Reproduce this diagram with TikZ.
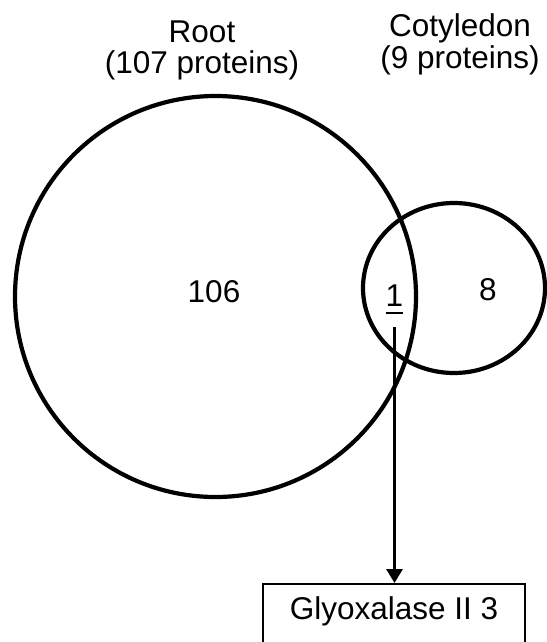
\documentclass[tikz,border=0pt]{standalone}
\usepackage{fontspec}
\setmainfont{Liberation Sans}
\usetikzlibrary{arrows.meta,shapes.geometric}

\tikzset{
  venntext/.style={font=\fontsize{31.5}{32}\selectfont, inner sep=0pt},
  setring/.style={draw, line width=4.2pt},
}

\begin{document}
\begin{tikzpicture}[x=1pt, y=-1pt]
  \useasboundingbox (0,0) rectangle (546,642);
  % the two sets
  \node[setring, circle, minimum size=401] (root) at (215.5,296.5) {};
  \node[setring, ellipse, minimum width=182, minimum height=170] (coty) at (454,288) {};
  % set labels (base = last line)
  \node[venntext, align=center, anchor=base] (rootlbl) at (202,74) {Root\\(107 proteins)};
  \node[venntext, align=center, anchor=base] (cotylbl) at (460,68) {Cotyledon\\(9 proteins)};
  % counts
  \node[venntext, anchor=base] (onlyroot) at (214,302) {106};
  \node[venntext, anchor=base] (onlycoty) at (488,300) {8};
  \node[venntext, anchor=base] (both) at (394.5,306) {\rlap{\rule[-8pt]{17.5pt}{2.2pt}}1};
  % shared protein
  \node[venntext, draw, line width=2pt, anchor=north, minimum width=262,
        text height=24pt, text depth=30pt, inner ysep=11pt] (gly) at (394,583) {Glyoxalase II 3};
  \draw[line width=3pt, -{Triangle[width=16pt,length=14pt]}]
    ([yshift=-13pt]both.south) -- (both.south |- gly.north);
\end{tikzpicture}
\end{document}
